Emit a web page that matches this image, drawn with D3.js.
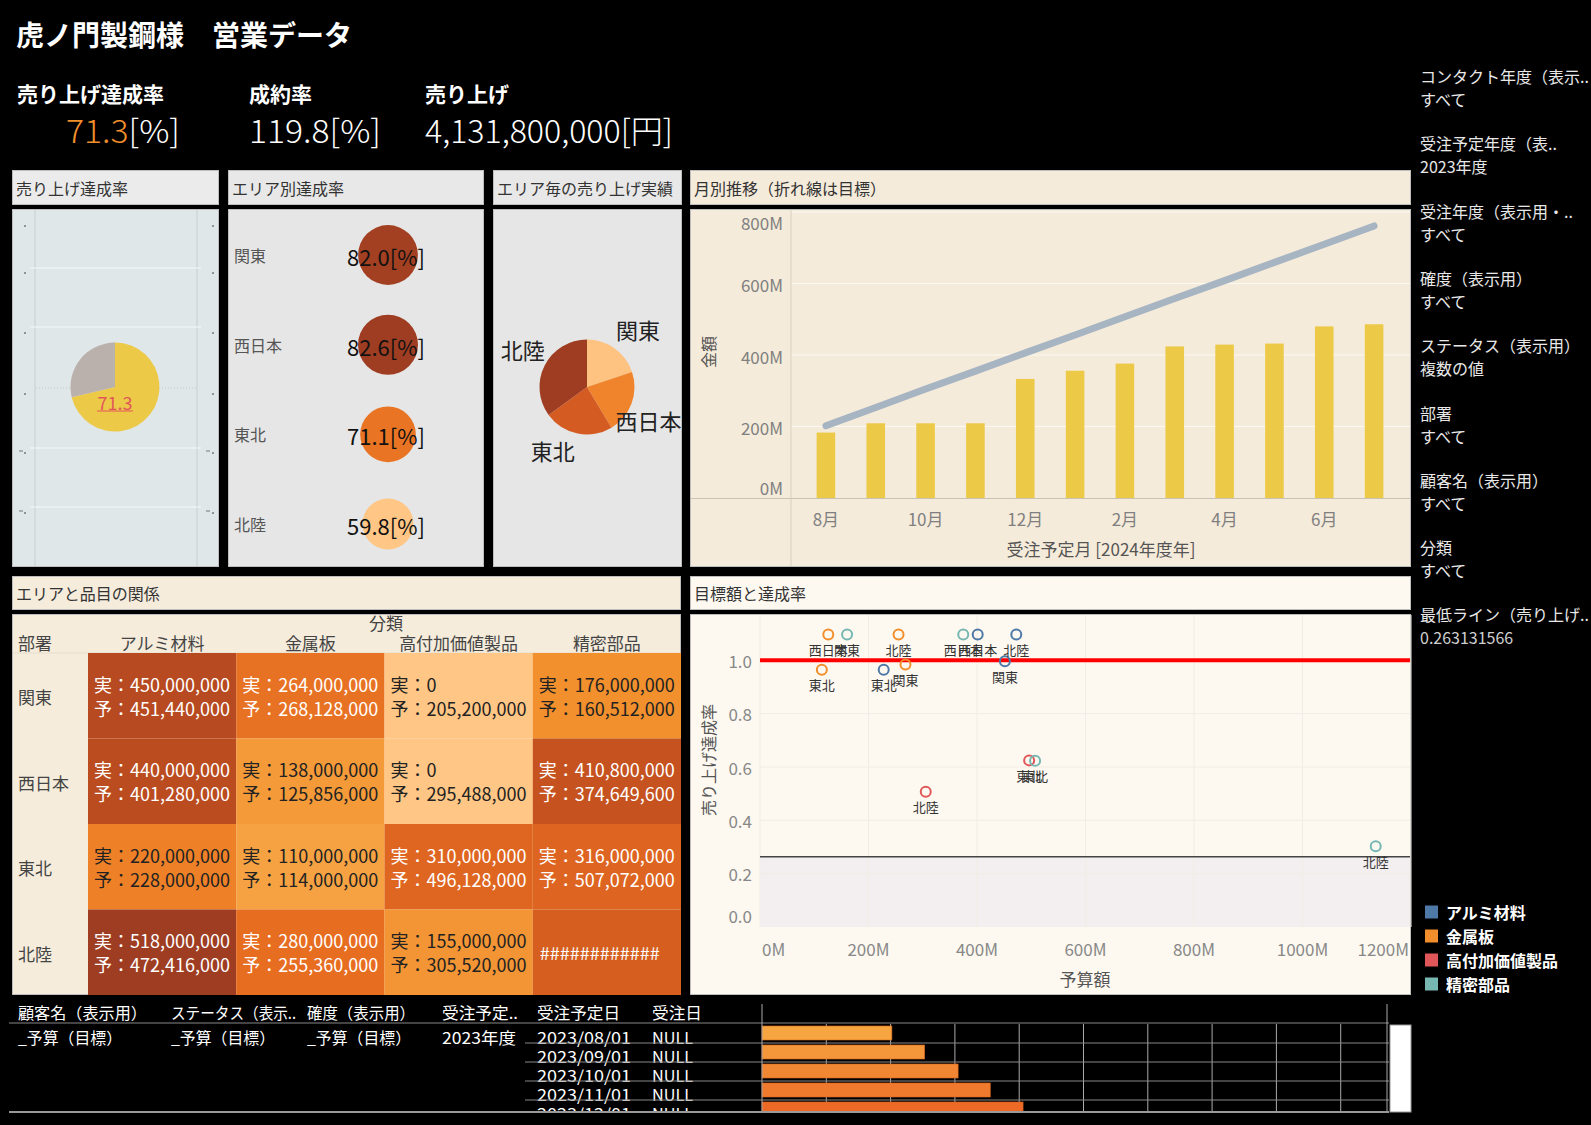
<!DOCTYPE html>
<html><head><meta charset="utf-8">
<script src="https://cdn.jsdelivr.net/npm/d3@7/dist/d3.min.js"></script>
<style>
body{margin:0;background:#000;}
svg{display:block;font-family:"Noto Sans CJK JP","Noto Sans",sans-serif;}
</style></head><body>
<svg id="c" width="1591" height="1125"></svg>
<script>
// ---------------- DATA ----------------
const dashboardTitle = "虎ノ門製鋼様　営業データ";
const kpiLabels = ["売り上げ達成率", "成約率", "売り上げ"];
const kpiValues = ["71.3", "119.8", "4,131,800,000"];
const kpiUnits = ["[%]", "[%]", "[円]"];

const overallRate = [71.3, 28.7];          // achieved / remaining (%)
const regions = ["関東", "西日本", "東北", "北陸"];
const areaRates = [82.0, 82.6, 71.1, 59.8]; // %
const areaSales = [820, 890, 975, 1447];    // M yen

const categories = ["アルミ材料", "金属板", "高付加価値製品", "精密部品"];
const actualValues = [
  [450000000, 264000000, 0, 176000000],
  [440000000, 138000000, 0, 410800000],
  [220000000, 110000000, 310000000, 316000000],
  [518000000, 280000000, 155000000, 344000000]
];
const budgetValues = [
  [451440000, 268128000, 205200000, 160512000],
  [401280000, 125856000, 295488000, 374649600],
  [228000000, 114000000, 496128000, 507072000],
  [472416000, 255360000, 305520000, 1135000000]
];

const months = ["8月","9月","10月","11月","12月","1月","2月","3月","4月","5月","6月","7月"];
const monthlyActual = [183, 209, 209, 209, 333, 356, 376, 424, 429, 432, 480, 486]; // M yen
const monthlyTarget = [202, 253, 305, 355, 406, 456, 507, 558, 608, 659, 710, 761]; // M yen
const minLine = 0.263131566;

const tableHeaders = ["顧客名（表示用）", "ステータス（表示..", "確度（表示用）", "受注予定..", "受注予定日", "受注日"];
const tableFixed = ["_予算（目標）", "_予算（目標）", "_予算（目標）", "2023年度"];
const tableDates = ["2023/08/01", "2023/09/01", "2023/10/01", "2023/11/01", "2023/12/01"];
const tableOrderDates = ["NULL", "NULL", "NULL", "NULL", "NULL"];
const tableBars = [202, 253, 305, 355, 406]; // M yen

const filterTitles = ["コンタクト年度（表示..", "受注予定年度（表..", "受注年度（表示用・..", "確度（表示用）", "ステータス（表示用）", "部署", "顧客名（表示用）", "分類", "最低ライン（売り上げ.."];
const filterValues = ["すべて", "2023年度", "すべて", "すべて", "複数の値", "すべて", "すべて", "すべて", "0.263131566"];

// ---------------- STYLES ----------------
const catColors = ["#4e79a7", "#f28e2b", "#e15759", "#76b7b2"];
const pieColors = ["#fec281", "#f0842c", "#d45b21", "#9e3d22"];
const pieLabelNudge = [[9, 0], [-6, 8], [-20, -8], [0, -5]];
const orangeStops = ["#ffc685", "#f6a445", "#f28e2b", "#e66b21", "#c4511f", "#9e3d22"];
const orange = d3.scaleLinear().domain([0, 0.2, 0.35, 0.55, 0.8, 1]).range(orangeStops).clamp(true);

const svg = d3.select("#c");
svg.append("rect").attr("width", 1591).attr("height", 1125).attr("fill", "#000");

function txt(x, y, s, o = {}) {
  const t = svg.append("text").attr("x", x).attr("y", y).attr("dominant-baseline", "central")
    .attr("font-size", o.size || 16).attr("fill", o.fill || "#333")
    .attr("text-anchor", o.anchor || "start").attr("font-weight", o.weight || 400).text(s);
  if (o.rotate) t.attr("transform", `rotate(-90,${x},${y})`);
  if (o.len) t.attr("textLength", o.len).attr("lengthAdjust", "spacingAndGlyphs");
  return t;
}
function panel(x0, x1, ty0, ty1, by0, by1, title, tBg, bBg) {
  svg.append("rect").attr("x", x0 + .5).attr("y", ty0 + .5).attr("width", x1 - x0 - 1).attr("height", ty1 - ty0 - 1)
    .attr("fill", tBg).attr("stroke", "#bdbdbd");
  svg.append("rect").attr("x", x0 + .5).attr("y", by0 + .5).attr("width", x1 - x0 - 1).attr("height", by1 - by0 - 1)
    .attr("fill", bBg).attr("stroke", "#bdbdbd");
  txt(x0 + 4, (ty0 + ty1) / 2, title, { size: 16, fill: "#333" });
}

// ---------------- HEADER / KPI ----------------
txt(16, 34, dashboardTitle, { size: 28, fill: "#fff", weight: 700 });
const kpiX = [17, 249, 425];
const kpiValX = [66, 249, 425];
const kpiValLen = [114, 132, 248];
kpiLabels.forEach((l, i) => txt(kpiX[i], 93, l, { size: 21, fill: "#fff", weight: 700 }));
kpiValues.forEach((v, i) => {
  const t = svg.append("text").attr("x", kpiValX[i]).attr("y", 129).attr("dominant-baseline", "central").attr("font-size", 32)
    .attr("font-weight", 300).attr("fill", "#fff")
    .attr("textLength", kpiValLen[i]).attr("lengthAdjust", "spacingAndGlyphs");
  t.append("tspan").attr("fill", i === 0 ? "#f28e2b" : "#fff").text(v);
  t.append("tspan").attr("fill", "#fff").text(kpiUnits[i]);
});

// ---------------- PANEL 1: overall rate pie ----------------
panel(12, 219, 170, 205, 209, 567, "売り上げ達成率", "#ebebeb", "#e0e7e9");
[35, 197].forEach(x => svg.append("line").attr("x1", x).attr("x2", x).attr("y1", 210).attr("y2", 566).attr("stroke", "#c9cfd1"));
[268, 327, 448, 507].forEach(y => svg.append("line").attr("x1", 30).attr("x2", 201).attr("y1", y).attr("y2", y).attr("stroke", "#f4f7f8"));
svg.append("line").attr("x1", 36).attr("x2", 197).attr("y1", 388).attr("y2", 388).attr("stroke", "#c5c9cb").attr("stroke-dasharray", "1,2");
[226, 273, 333, 394, 453, 513].forEach((y, i) => {
  [25, 213].forEach(x => svg.append("circle").attr("cx", x).attr("cy", y).attr("r", 1).attr("fill", "#777"));
  if (i >= 4) [19, 206].forEach(x => svg.append("line").attr("x1", x).attr("x2", x + 4).attr("y1", y - 2).attr("y2", y - 2).attr("stroke", "#777"));
});
const pie1 = d3.pie().sort(null)(overallRate);
const arc1 = d3.arc().innerRadius(0).outerRadius(44.5);
svg.append("g").attr("transform", "translate(115,387)").selectAll("path").data(pie1).join("path")
  .attr("d", arc1).attr("fill", (d, i) => i === 0 ? "#edc948" : "#bab0ac");
txt(115, 402, String(overallRate[0]), { size: 18, fill: "#e15759", anchor: "middle" });
svg.append("line").attr("x1", 97).attr("x2", 133).attr("y1", 411).attr("y2", 411).attr("stroke", "#e15759");

// ---------------- PANEL 2: area rates ----------------
panel(228, 484, 170, 205, 209, 567, "エリア別達成率", "#e8e8e8", "#e6e6e6");
const yA = d3.scalePoint().domain(regions).range([255, 524]);
const rA = d3.scaleSqrt().domain([0, d3.max(areaRates)]).range([0, 30]);
const cA = v => orange((v - d3.min(areaRates)) / (d3.max(areaRates) - d3.min(areaRates)));
regions.forEach((r, i) => {
  txt(234, yA(r), r, { size: 16, fill: "#555" });
  svg.append("circle").attr("cx", 388).attr("cy", yA(r)).attr("r", rA(areaRates[i])).attr("fill", cA(areaRates[i]));
  txt(386, yA(r) + 1, areaRates[i].toFixed(1) + "[%]", { size: 22, fill: "#111", anchor: "middle" });
});

// ---------------- PANEL 3: area sales pie ----------------
panel(493, 682, 170, 205, 209, 567, "エリア毎の売り上げ実績", "#e8e8e8", "#e6e6e6");
const pie3 = d3.pie().sort(null)(areaSales);
const arc3 = d3.arc().innerRadius(0).outerRadius(47.5);
const lab3 = d3.arc().innerRadius(72).outerRadius(72);
const g3 = svg.append("g").attr("transform", "translate(587,387)");
g3.selectAll("path").data(pie3).join("path").attr("d", arc3).attr("fill", (d, i) => pieColors[i]);
g3.selectAll("text").data(pie3).join("text")
  .attr("transform", (d, i) => { const c = lab3.centroid(d); return `translate(${c[0] + pieLabelNudge[i][0]},${c[1] + pieLabelNudge[i][1]})`; })
  .attr("text-anchor", "middle")
  .attr("dominant-baseline", "central").attr("font-size", 22).attr("fill", "#222").text((d, i) => regions[i]);

// ---------------- PANEL 4: monthly ----------------
panel(690, 1411, 170, 205, 209, 567, "月別推移（折れ線は目標）", "#f5ebdb", "#f5ebda");
const xM = d3.scaleBand().domain(months).range([801, 1399]).paddingInner(0.627).paddingOuter(0.3135);
const yM = d3.scaleLinear().domain([0, 800]).range([498, 212]);
yM.ticks(5).forEach(t => {
  if (t > 0) svg.append("line").attr("x1", 791).attr("x2", 1410).attr("y1", yM(t)).attr("y2", yM(t)).attr("stroke", "#fcf8f2");
  const dy = t === 800 ? 10 : t === 0 ? -11 : 1;
  txt(783, yM(t) + dy, t + "M", { size: 17, fill: "#808080", anchor: "end" });
});
svg.append("line").attr("x1", 791).attr("x2", 791).attr("y1", 210).attr("y2", 566).attr("stroke", "#d8d0c2");
svg.append("g").selectAll("rect").data(monthlyActual).join("rect")
  .attr("x", (d, i) => xM(months[i])).attr("width", xM.bandwidth())
  .attr("y", d => yM(d)).attr("height", d => yM(0) - yM(d)).attr("fill", "#edc948");
svg.append("line").attr("x1", 691).attr("x2", 1410).attr("y1", 498.5).attr("y2", 498.5).attr("stroke", "#c9c2b6");
svg.append("path").datum(monthlyTarget)
  .attr("d", d3.line().x((d, i) => xM(months[i]) + xM.bandwidth() / 2).y(d => yM(d)))
  .attr("fill", "none").attr("stroke", "#a7b5c3").attr("stroke-width", 7).attr("stroke-linecap", "round");
months.forEach((m, i) => { if (i % 2 === 0) txt(xM(m) + xM.bandwidth() / 2, 518, m, { size: 17, fill: "#808080", anchor: "middle" }); });
txt(1101, 548, "受注予定月 [2024年度年]", { size: 17, fill: "#555", anchor: "middle" });
txt(708, 352, "金額", { size: 16, fill: "#555", anchor: "middle", rotate: true });

// ---------------- HEATMAP ----------------
panel(12, 681, 576, 610, 614, 995, "エリアと品目の関係", "#f5ecdc", "#f5ecdc");
const xH = d3.scaleBand().domain(categories).range([88, 681]);
const yH = d3.scaleBand().domain(regions).range([653, 995]);
svg.append("line").attr("x1", 13).attr("x2", 680).attr("y1", 653).attr("y2", 653).attr("stroke", "#e4dccd");
txt(386, 622, "分類", { size: 17, fill: "#444", anchor: "middle" });
txt(18, 642, "部署", { size: 17, fill: "#444" });
categories.forEach(c => txt(xH(c) + xH.bandwidth() / 2, 642, c, { size: 17, fill: "#444", anchor: "middle" }));
const fmt = d3.format(",");
regions.forEach((r, i) => {
  txt(18, yH(r) + yH.bandwidth() / 2 + 1, r, { size: 17, fill: "#444" });
  categories.forEach((c, j) => {
    const a = actualValues[i][j], b = budgetValues[i][j];
    svg.append("rect").attr("x", xH(c)).attr("y", yH(r)).attr("width", xH.bandwidth()).attr("height", yH.bandwidth())
      .attr("fill", orange(a / 518000000));
    const fc = a >= 250000000 ? "#fff" : "#222";
    const cy = yH(r) + yH.bandwidth() / 2;
    if (b >= 1e9) {
      txt(xH(c) + 7, cy, "############", { size: 18, fill: fc });
    } else {
      txt(xH(c) + 6, cy - 12, "実：" + fmt(a), { size: 18, fill: fc });
      txt(xH(c) + 6, cy + 12, "予：" + fmt(b), { size: 18, fill: fc });
    }
  });
});

// ---------------- SCATTER ----------------
panel(690, 1411, 576, 610, 614, 995, "目標額と達成率", "#fdf9f1", "#fdf9f1");
const xS = d3.scaleLinear().domain([0, 1200]).range([760, 1411]);
const yS = d3.scaleLinear().domain([0, 1.17]).range([927, 615]);
svg.append("rect").attr("x", 760).attr("y", yS(minLine)).attr("width", 650).attr("height", yS(0) - yS(minLine)).attr("fill", "#f3eff0");
xS.ticks(6).forEach(t => {
  svg.append("line").attr("x1", xS(t)).attr("x2", xS(t)).attr("y1", 615).attr("y2", 927).attr("stroke", "#f1ede5");
  const anc = t === 0 ? "start" : t === 1200 ? "end" : "middle";
  const xx = t === 0 ? 762 : t === 1200 ? 1409 : xS(t);
  txt(xx, 948, t + "M", { size: 17, fill: "#888", anchor: anc });
});
[0, 0.2, 0.4, 0.6, 0.8, 1.0].forEach(t => {
  if (t > 0) svg.append("line").attr("x1", 760).attr("x2", 1410).attr("y1", yS(t)).attr("y2", yS(t)).attr("stroke", "#f1ede5");
  txt(752, yS(t) + (t === 0 ? -12 : 0), t.toFixed(1), { size: 17, fill: "#888", anchor: "end" });
});
svg.append("line").attr("x1", 760).attr("x2", 1410).attr("y1", yS(minLine)).attr("y2", yS(minLine)).attr("stroke", "#444").attr("stroke-width", 1.5);
svg.append("line").attr("x1", 760).attr("x2", 1410).attr("y1", yS(1)).attr("y2", yS(1)).attr("stroke", "#ff0000").attr("stroke-width", 4);
const pts = [];
regions.forEach((r, i) => categories.forEach((c, j) => {
  if (actualValues[i][j] > 0) pts.push({ r, j, x: budgetValues[i][j] / 1e6, y: actualValues[i][j] / budgetValues[i][j] });
}));
const gS = svg.append("g");
gS.selectAll("circle").data(pts).join("circle").attr("cx", d => xS(d.x)).attr("cy", d => yS(d.y)).attr("r", 5)
  .attr("fill", "none").attr("stroke", d => catColors[d.j]).attr("stroke-width", 2);
gS.selectAll("text").data(pts).join("text").attr("x", d => xS(d.x)).attr("y", d => yS(d.y) + 15)
  .attr("text-anchor", "middle").attr("dominant-baseline", "central").attr("font-size", 13).attr("fill", "#333").text(d => d.r);
txt(708, 760, "売り上げ達成率", { size: 16, fill: "#555", anchor: "middle", rotate: true });
txt(1085, 978, "予算額", { size: 17, fill: "#555", anchor: "middle" });

// ---------------- LEGEND ----------------
categories.forEach((c, i) => {
  const y = 912 + i * 24;
  svg.append("rect").attr("x", 1425).attr("y", y - 6.5).attr("width", 13).attr("height", 13).attr("fill", catColors[i]);
  txt(1446, y, c, { size: 16, fill: "#fff", weight: 700 });
});

// ---------------- FILTERS ----------------
filterTitles.forEach((t, i) => {
  const y = 76 + i * 67.3;
  txt(1420, y, t, { size: 16, fill: "#e8e8e8" });
  txt(1420, y + 23, filterValues[i], { size: 16, fill: i === 8 ? "#cfcfcf" : "#e8e8e8" });
});

// ---------------- BOTTOM TABLE ----------------
const hdrX = [18, 171, 307, 442, 537, 652];
const hdrLen = [129, 125, 108, 76, 83, 50];
tableHeaders.forEach((h, i) => txt(hdrX[i], 1012, h, { size: 16, fill: "#fff", len: hdrLen[i] }));
svg.append("line").attr("x1", 9).attr("x2", 1389).attr("y1", 1023).attr("y2", 1023).attr("stroke", "#888");
tableFixed.forEach((v, i) => txt(hdrX[i], 1037, v, { size: 16, fill: "#fff", len: i < 3 ? 104 : 74 }));
svg.append("defs").append("clipPath").attr("id", "tclip").append("rect").attr("x", 0).attr("y", 1024).attr("width", 1400).attr("height", 88);
const gT = svg.append("g").attr("clip-path", "url(#tclip)");
const xB = d3.scaleLinear().domain([0, 972]).range([762, 1387]);
d3.range(1, 10).forEach(k => gT.append("line").attr("x1", xB(k * 100)).attr("x2", xB(k * 100)).attr("y1", 1023).attr("y2", 1112).attr("stroke", "#aaa"));
tableDates.forEach((d, i) => {
  const top = 1024 + i * 19;
  gT.append("text").attr("x", 537).attr("y", top + 13).attr("dominant-baseline", "central").attr("font-size", 16).attr("fill", "#fff")
    .attr("textLength", 94).attr("lengthAdjust", "spacingAndGlyphs").text(d);
  gT.append("text").attr("x", 652).attr("y", top + 13).attr("dominant-baseline", "central").attr("font-size", 16).attr("fill", "#fff")
    .attr("textLength", 41).attr("lengthAdjust", "spacingAndGlyphs").text(tableOrderDates[i]);
  gT.append("line").attr("x1", 525).attr("x2", 1389).attr("y1", top + 19).attr("y2", top + 19).attr("stroke", "#888");
});
const barCol = d3.scaleLinear().domain([d3.min(tableBars), d3.max(tableBars)]).range(["#f7a541", "#ec6a25"]);
gT.selectAll("rect.b").data(tableBars).join("rect").attr("class", "b")
  .attr("x", xB(0)).attr("y", (d, i) => 1026 + i * 19).attr("width", d => xB(d) - xB(0)).attr("height", 14)
  .attr("fill", d => barCol(d)).attr("stroke", "#d9641f").attr("stroke-width", 0.6);
[762, 1387].forEach(x => svg.append("line").attr("x1", x).attr("x2", x).attr("y1", 1004).attr("y2", 1112).attr("stroke", "#aaa"));
svg.append("line").attr("x1", 9).attr("x2", 1389).attr("y1", 1112).attr("y2", 1112).attr("stroke", "#999").attr("stroke-width", 2);
svg.append("rect").attr("x", 1390).attr("y", 1025).attr("width", 21).attr("height", 87).attr("fill", "#fff").attr("stroke", "#999");
</script>
</body></html>
